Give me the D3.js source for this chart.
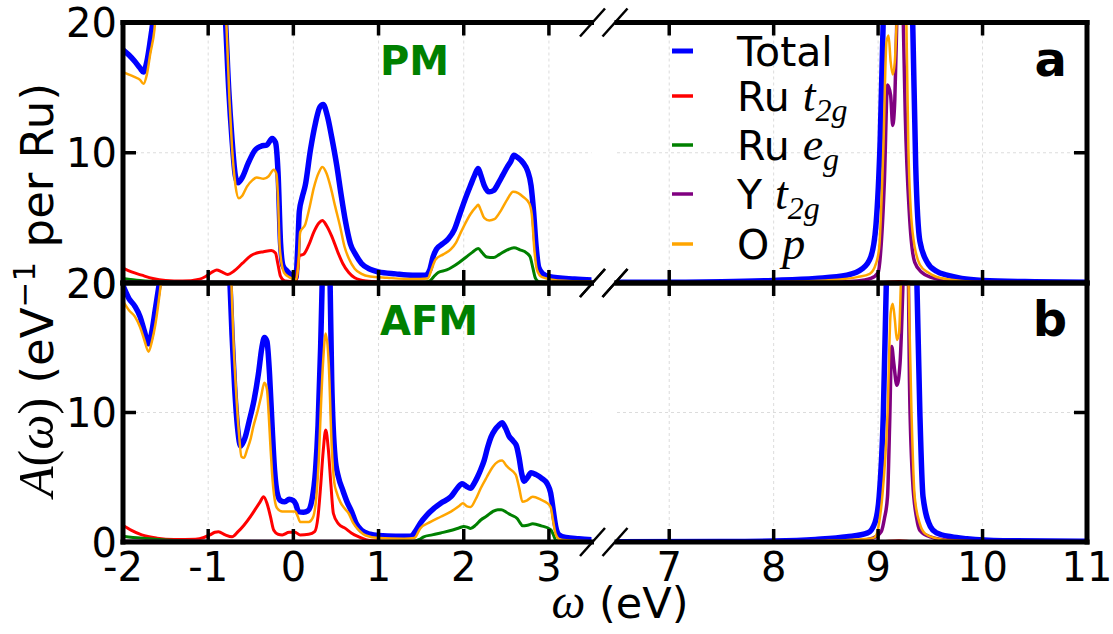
<!DOCTYPE html>
<html>
<head>
<meta charset="utf-8">
<style>
  body{margin:0;background:#fff}
  svg{display:block}
  text{font-family:"DejaVu Sans"}
  .math{font-family:"Liberation Serif";font-style:italic}
</style>
</head>
<body>
<svg id="chart" width="1113" height="634"></svg>
<script src="https://d3js.org/d3.v7.min.js"></script>
<script>
// ---- data: [omega (eV), A(omega)] ----
const pmTotal = [[-2,17.9],[-1.93,17.5],[-1.86,17.0],[-1.8,16.5],[-1.76,16.2],[-1.72,17.0],[-1.68,18.6],[-1.64,20.5],[-1.55,26],[-1.2,32],[-0.9,26],[-0.8,20.5],[-0.76,15],[-0.72,11],[-0.68,8.2],[-0.65,7.7],[-0.6,8.1],[-0.53,9.2],[-0.45,10.2],[-0.38,10.5],[-0.31,10.6],[-0.25,11.1],[-0.21,10.8],[-0.18,8.5],[-0.15,3],[-0.12,1.3],[-0.07,0.9],[-0.02,0.6],[0.03,0.4],[0.05,2.5],[0.07,5.5],[0.1,6.5],[0.14,7.5],[0.2,10.2],[0.26,12.3],[0.31,13.5],[0.35,13.7],[0.4,12.8],[0.45,11.2],[0.51,9.0],[0.56,6.8],[0.61,4.8],[0.67,3.0],[0.73,2.2],[0.8,1.5],[0.9,1.05],[1.0,0.85],[1.2,0.7],[1.4,0.6],[1.55,0.6],[1.6,1.0],[1.64,2.0],[1.68,2.6],[1.75,3.0],[1.82,3.4],[1.89,4.1],[1.95,5.2],[2.02,6.5],[2.08,7.5],[2.13,8.3],[2.17,8.8],[2.2,8.3],[2.24,7.5],[2.3,7.0],[2.35,7.1],[2.41,7.7],[2.46,8.3],[2.51,8.9],[2.55,9.3],[2.59,9.8],[2.64,9.6],[2.7,9.2],[2.75,8.6],[2.79,7.5],[2.82,5.5],[2.85,2.8],[2.88,1.2],[2.93,0.7],[3.0,0.5],[3.3,0.3],[3.6,0.2],
  [6.4,0.05],[7,0.06],[7.5,0.1],[8,0.2],[8.4,0.35],[8.7,0.6],[8.85,1.1],[8.93,2.0],[8.98,4.5],[9.02,11],[9.05,20.5],[9.1,30],[9.2,35],[9.28,30],[9.33,20.5],[9.36,9],[9.4,3.2],[9.47,1.6],[9.56,0.9],[9.66,0.6],[9.8,0.35],[10,0.2],[10.5,0.1],[11,0.06]];
const pmRuT2g = [[-2,1.15],[-1.9,0.85],[-1.78,0.6],[-1.65,0.35],[-1.5,0.2],[-1.3,0.15],[-1.1,0.3],[-1.03,0.5],[-0.95,0.85],[-0.9,1.0],[-0.84,0.85],[-0.77,0.65],[-0.7,0.9],[-0.6,1.5],[-0.5,2.1],[-0.43,2.3],[-0.35,2.4],[-0.26,2.5],[-0.21,2.3],[-0.18,1.4],[-0.15,0.5],[-0.1,0.15],[0.03,0.1],[0.05,1.0],[0.07,2.1],[0.12,2.2],[0.18,2.9],[0.24,3.9],[0.3,4.6],[0.34,4.8],[0.39,4.4],[0.45,3.6],[0.52,2.4],[0.58,1.5],[0.65,0.8],[0.72,0.4],[0.85,0.15],[1.0,0.08],[1.5,0.05],[3.6,0.03],
  [6.4,0],[9.0,0.02],[9.2,0.12],[9.35,0.02],[11,0]];
const pmRuEg = [[-2,0.35],[-1.8,0.2],[-1.5,0.1],[-1.0,0.05],[0,0.02],[1.5,0.02],[1.6,0.15],[1.65,0.5],[1.7,0.8],[1.8,1.0],[1.87,1.25],[1.95,1.6],[2.03,2.0],[2.1,2.35],[2.17,2.65],[2.22,2.3],[2.27,2.0],[2.35,1.95],[2.42,2.2],[2.5,2.5],[2.59,2.7],[2.66,2.55],[2.74,2.3],[2.78,2.0],[2.81,1.2],[2.84,0.4],[2.88,0.1],[3.0,0.03],[3.6,0],
  [6.4,0],[11,0]];
const pmYT2g = [[-2,0.05],[3.6,0.02],
  [6.4,0],[8.5,0.05],[8.8,0.15],[8.93,0.35],[9.0,0.8],[9.03,3],[9.06,7.8],[9.09,15.2],[9.12,14.4],[9.14,12.1],[9.16,14.1],[9.18,20.5],[9.21,30],[9.24,20.5],[9.26,12.9],[9.3,5.2],[9.35,1.6],[9.42,0.8],[9.5,0.45],[9.7,0.15],[10,0.05],[11,0]];
const pmOp = [[-2,16.2],[-1.93,16.0],[-1.86,15.8],[-1.8,15.6],[-1.76,15.3],[-1.72,16.0],[-1.68,17.6],[-1.63,19.5],[-1.58,24],[-1.2,30],[-0.85,25],[-0.79,20.5],[-0.75,14],[-0.72,10.4],[-0.68,7.5],[-0.64,6.5],[-0.6,6.7],[-0.545,7.4],[-0.48,7.9],[-0.43,8.1],[-0.35,8.0],[-0.29,8.2],[-0.23,8.7],[-0.2,8.4],[-0.18,6.5],[-0.16,2.7],[-0.11,0.8],[-0.05,0.45],[0.03,0.25],[0.06,1.5],[0.08,3.9],[0.14,4.5],[0.19,5.8],[0.24,7.3],[0.3,8.5],[0.34,8.9],[0.39,8.4],[0.44,7.3],[0.49,5.9],[0.55,4.3],[0.6,2.8],[0.65,1.9],[0.72,1.1],[0.8,0.7],[0.9,0.5],[1.1,0.4],[1.4,0.3],[1.58,0.35],[1.62,1.0],[1.67,1.8],[1.76,2.2],[1.85,2.6],[1.91,3.1],[1.96,3.8],[2.02,4.6],[2.08,5.3],[2.14,5.8],[2.17,6.0],[2.2,5.6],[2.24,5.0],[2.3,4.8],[2.36,4.9],[2.44,5.6],[2.51,6.4],[2.58,7.0],[2.64,6.9],[2.7,6.6],[2.77,6.1],[2.8,5.2],[2.83,2.5],[2.86,1.0],[2.92,0.45],[3.1,0.2],[3.6,0.1],
  [6.4,0.02],[8,0.08],[8.5,0.2],[8.8,0.45],[8.92,0.7],[8.98,1.5],[9.01,2.7],[9.05,10.3],[9.08,18.5],[9.1,19.0],[9.12,17.0],[9.14,16.0],[9.16,17.0],[9.18,20.5],[9.23,30],[9.27,20.5],[9.29,10.3],[9.33,3.9],[9.4,1.4],[9.48,0.8],[9.55,0.5],[9.7,0.25],[9.9,0.1],[10.5,0.04],[11,0.02]];

const afmTotal = [[-2,19.8],[-1.93,18.8],[-1.86,18.2],[-1.8,17.4],[-1.75,16.3],[-1.7,15.3],[-1.66,16.3],[-1.62,18.0],[-1.58,19.7],[-1.55,21],[-1.2,32],[-0.8,28],[-0.75,21],[-0.72,16],[-0.69,12],[-0.65,8.5],[-0.62,7.4],[-0.57,8.0],[-0.52,9.3],[-0.46,11.0],[-0.41,13.0],[-0.37,15.0],[-0.34,15.8],[-0.31,15.5],[-0.28,13.0],[-0.25,9.0],[-0.22,5.5],[-0.19,3.8],[-0.15,3.2],[-0.1,3.1],[-0.05,3.3],[0.0,3.2],[0.03,2.9],[0.06,2.35],[0.12,2.3],[0.17,2.4],[0.22,3.3],[0.26,5.5],[0.29,9],[0.32,15],[0.34,20.5],[0.38,30],[0.43,20.5],[0.45,12.5],[0.49,6.5],[0.53,5.0],[0.58,4.0],[0.63,3.1],[0.68,2.4],[0.74,1.4],[0.8,0.9],[0.9,0.6],[1.0,0.5],[1.2,0.45],[1.38,0.45],[1.43,0.8],[1.49,1.45],[1.57,2.1],[1.65,2.6],[1.73,3.0],[1.85,3.5],[1.93,4.2],[1.98,4.5],[2.03,4.3],[2.08,4.15],[2.12,4.5],[2.16,5.0],[2.2,5.6],[2.24,6.3],[2.28,7.3],[2.32,8.1],[2.37,8.7],[2.41,9.0],[2.45,9.2],[2.49,8.8],[2.53,8.2],[2.58,7.8],[2.62,7.4],[2.65,6.5],[2.68,5.3],[2.71,4.7],[2.75,5.0],[2.79,5.35],[2.85,5.2],[2.92,4.9],[2.98,4.5],[3.02,3.8],[3.05,2.5],[3.08,1.2],[3.12,0.55],[3.2,0.35],[3.35,0.25],[3.6,0.15],
  [6.4,0.02],[7.5,0.04],[8,0.08],[8.4,0.2],[8.7,0.4],[8.9,0.7],[8.97,1.5],[9.01,3.5],[9.05,9.9],[9.08,20.5],[9.13,30],[9.22,35],[9.32,30],[9.37,20.5],[9.4,9.9],[9.43,3.5],[9.5,1.2],[9.56,0.7],[9.7,0.4],[9.85,0.25],[10.2,0.1],[11,0.05]];
const afmRuT2g = [[-2,1.3],[-1.9,0.9],[-1.78,0.55],[-1.6,0.3],[-1.4,0.2],[-1.15,0.22],[-1.05,0.35],[-0.98,0.55],[-0.92,0.75],[-0.88,0.8],[-0.8,0.55],[-0.72,0.4],[-0.65,0.8],[-0.58,1.3],[-0.5,2.0],[-0.45,2.5],[-0.39,3.1],[-0.35,3.5],[-0.31,3.0],[-0.27,2.0],[-0.23,0.9],[-0.18,0.6],[-0.13,0.55],[-0.05,0.75],[0.02,0.75],[0.08,0.55],[0.18,0.6],[0.25,0.8],[0.29,2.0],[0.32,4.3],[0.35,7.0],[0.38,8.65],[0.41,7.2],[0.44,4.5],[0.47,2.2],[0.53,1.4],[0.61,1.05],[0.68,0.7],[0.77,0.4],[0.9,0.12],[1.2,0.05],[3.6,0.02],
  [6.4,0],[9.0,0.01],[9.2,0.1],[9.35,0.01],[11,0]];
const afmRuEg = [[-2,0.45],[-1.8,0.3],[-1.5,0.15],[-1.0,0.05],[0,0.02],[1.4,0.03],[1.48,0.2],[1.53,0.4],[1.63,0.55],[1.73,0.7],[1.87,0.93],[1.95,1.1],[2.0,1.2],[2.04,1.15],[2.08,1.05],[2.14,1.3],[2.2,1.7],[2.27,2.0],[2.34,2.35],[2.4,2.5],[2.44,2.5],[2.5,2.3],[2.55,2.1],[2.63,1.8],[2.66,1.5],[2.69,1.25],[2.75,1.3],[2.81,1.4],[2.91,1.25],[3.02,0.95],[3.05,0.6],[3.08,0.15],[3.15,0.03],[3.6,0],
  [6.4,0],[11,0]];
const afmYT2g = [[-2,0.05],[3.6,0.02],
  [6.4,0],[8.5,0.04],[8.8,0.1],[8.95,0.3],[9.03,0.8],[9.06,1.8],[9.09,3.5],[9.11,9],[9.13,15.1],[9.15,13.8],[9.18,12.1],[9.21,13.8],[9.24,20.5],[9.27,30],[9.29,20.5],[9.3,12.5],[9.33,4.8],[9.37,1.8],[9.4,0.9],[9.5,0.4],[9.7,0.12],[10,0.04],[11,0]];
const afmOp = [[-2,18.6],[-1.93,17.9],[-1.86,17.4],[-1.8,16.6],[-1.75,15.6],[-1.7,14.7],[-1.66,15.5],[-1.62,16.8],[-1.56,19.7],[-1.52,22],[-1.2,30],[-0.8,27],[-0.73,20.5],[-0.7,15],[-0.68,12.5],[-0.64,8.5],[-0.61,6.6],[-0.58,6.5],[-0.545,7.1],[-0.5,8.0],[-0.47,8.9],[-0.42,10.1],[-0.38,11.2],[-0.34,12.3],[-0.31,11.8],[-0.29,9.9],[-0.27,7.5],[-0.25,5.3],[-0.22,3.3],[-0.19,2.6],[-0.13,2.35],[0.02,2.35],[0.05,2.0],[0.08,1.55],[0.18,1.55],[0.23,1.9],[0.27,3.5],[0.3,6.5],[0.32,9.9],[0.35,14],[0.38,16.1],[0.415,13.8],[0.45,7.4],[0.48,4.6],[0.51,3.8],[0.55,3.1],[0.6,2.6],[0.65,2.2],[0.7,1.5],[0.77,0.9],[0.85,0.5],[1.0,0.3],[1.3,0.25],[1.42,0.3],[1.49,1.05],[1.61,1.55],[1.73,1.95],[1.85,2.35],[1.95,2.8],[1.99,3.0],[2.04,2.75],[2.08,2.7],[2.14,3.3],[2.2,4.15],[2.27,5.0],[2.34,5.8],[2.4,6.2],[2.45,6.3],[2.5,5.9],[2.53,5.7],[2.61,5.2],[2.65,4.2],[2.69,3.1],[2.74,3.2],[2.81,3.5],[2.91,3.25],[2.98,3.0],[3.02,2.7],[3.05,1.6],[3.08,0.6],[3.13,0.2],[3.3,0.1],[3.6,0.06],
  [6.4,0],[8,0.04],[8.5,0.1],[8.8,0.2],[8.95,0.3],[8.98,0.5],[9.01,1.5],[9.04,3.5],[9.09,9.9],[9.12,17.7],[9.14,18.4],[9.16,17.2],[9.18,15.6],[9.2,16.1],[9.22,20.5],[9.26,30],[9.29,20.5],[9.32,9.9],[9.35,3.5],[9.4,1.4],[9.45,0.65],[9.55,0.3],[9.7,0.12],[10,0.05],[11,0.02]];

const seriesNames = ['Total', 'Ru t2g', 'Ru eg', 'Y t2g', 'O p'];
const seriesColors = ['#0000ff', '#ff0000', '#008000', '#800080', '#ffa500'];
const seriesWidths = [5.5, 3, 3, 3.5, 2.5];
const xTicksLeft = [-2, -1, 0, 1, 2, 3];
const xTicksRight = [7, 8, 9, 10, 11];
const yTicks = [0, 10, 20];

const svg = d3.select('#chart');
svg.append('rect').attr('width', 1113).attr('height', 634).attr('fill', '#fff');

// two x ranges of the broken axis
const sides = [
  {x: d3.scaleLinear().domain([-2, 3.5]).range([123, 591.5]), ticks: xTicksLeft, keep: d => d[0] <= 3.6},
  {x: d3.scaleLinear().domain([6.5, 11]).range([617, 1087]), ticks: xTicksRight, keep: d => d[0] >= 6.4}
];

const panels = [
  {name: 'PM', tag: 'a', y: d3.scaleLinear().domain([0, 20]).range([283, 22.5]),
   series: [pmTotal, pmRuT2g, pmRuEg, pmYT2g, pmOp]},
  {name: 'AFM', tag: 'b', y: d3.scaleLinear().domain([0, 20]).range([542, 283]),
   series: [afmTotal, afmRuT2g, afmRuEg, afmYT2g, afmOp]}
];

const defs = svg.append('defs');

panels.forEach((p, pi) => {
  const [y0, y1] = p.y.range(); // bottom, top
  sides.forEach((s, si) => {
    const [x0, x1] = s.x.range();
    const id = `clip-${pi}-${si}`;
    defs.append('clipPath').attr('id', id)
      .append('rect').attr('x', x0).attr('y', y1).attr('width', x1 - x0).attr('height', y0 - y1);

    const g = svg.append('g');

    // grid
    g.selectAll('.gx').data(s.ticks).join('line')
      .attr('x1', d => s.x(d)).attr('x2', d => s.x(d))
      .attr('y1', y1).attr('y2', y0)
      .attr('stroke', '#dcdcdc').attr('stroke-width', 1).attr('stroke-dasharray', '3,3');
    g.append('line')
      .attr('x1', x0).attr('x2', x1).attr('y1', p.y(10)).attr('y2', p.y(10))
      .attr('stroke', '#dcdcdc').attr('stroke-width', 1).attr('stroke-dasharray', '3,3');

    // curves
    const line = d3.line().x(d => s.x(d[0])).y(d => p.y(d[1])).curve(d3.curveMonotoneX);
    const lg = g.append('g').attr('clip-path', `url(#${id})`);
    p.series.forEach((arr, k) => {
      lg.append('path')
        .attr('d', line(arr.filter(s.keep)))
        .attr('fill', 'none')
        .attr('stroke', seriesColors[k])
        .attr('stroke-width', seriesWidths[k])
        .attr('stroke-linejoin', 'round');
    });

    // spines
    const spine = (ax, ay, bx, by) => g.append('line')
      .attr('x1', ax).attr('y1', ay).attr('x2', bx).attr('y2', by)
      .attr('stroke', '#000').attr('stroke-width', 5).attr('stroke-linecap', 'square');
    spine(x0, y1, x1, y1);
    spine(x0, y0, x1, y0);
    if (si === 0) spine(x0, y1, x0, y0); else spine(x1, y1, x1, y0);

    // ticks (inward)
    g.selectAll('.tt').data(s.ticks).join('line')
      .attr('x1', d => s.x(d)).attr('x2', d => s.x(d)).attr('y1', y1).attr('y2', y1 + 13)
      .attr('stroke', '#000').attr('stroke-width', 3.5);
    g.selectAll('.tb').data(s.ticks).join('line')
      .attr('x1', d => s.x(d)).attr('x2', d => s.x(d)).attr('y1', y0).attr('y2', y0 - 13)
      .attr('stroke', '#000').attr('stroke-width', 3.5);
    const yx = si === 0 ? x0 : x1;
    const dir = si === 0 ? 1 : -1;
    g.selectAll('.ty').data(yTicks).join('line')
      .attr('x1', yx).attr('x2', yx + dir * 13).attr('y1', d => p.y(d)).attr('y2', d => p.y(d))
      .attr('stroke', '#000').attr('stroke-width', 3.5);

    // break marks
    const bx = si === 0 ? x1 + 1 : x0 - 2;
    [y1, y0].forEach(yy => {
      g.append('line').attr('x1', bx - 12.5).attr('y1', yy + 14).attr('x2', bx + 12.5).attr('y2', yy - 14)
        .attr('stroke', '#000').attr('stroke-width', 2.5);
    });

    // x tick labels only on lower panel
    if (pi === 1) {
      g.selectAll('.lx').data(s.ticks).join('text')
        .attr('x', d => s.x(d)).attr('y', 581)
        .attr('text-anchor', 'middle').attr('font-size', 40)
        .text(d => d);
    }
  });

  // y tick labels
  svg.append('g').selectAll('text').data(yTicks).join('text')
    .attr('x', 117).attr('y', d => p.y(d) + 14.5)
    .attr('text-anchor', 'end').attr('font-size', 40)
    .text(d => d);

  // panel names
  svg.append('text').attr('x', 380).attr('y', p.y(20) + 52)
    .attr('font-size', 40).attr('font-weight', 'bold').attr('fill', '#008000')
    .text(p.name);
  svg.append('text').attr('x', 1067).attr('y', p.y(20) + 53)
    .attr('text-anchor', 'end').attr('font-size', 48).attr('font-weight', 'bold')
    .text(p.tag);
});

// legend
const legendY = [51, 96, 145, 194, 244];
const leg = svg.append('g');
seriesNames.forEach((n, k) => {
  leg.append('line').attr('x1', 672).attr('x2', 693).attr('y1', legendY[k]).attr('y2', legendY[k])
    .attr('stroke', seriesColors[k]).attr('stroke-width', k === 0 ? 5 : 3.5);
  const t = leg.append('text').attr('x', 737).attr('y', legendY[k] + 14.5).attr('font-size', 41);
  const parts = n.split(' ');
  t.append('tspan').text(parts[0] + ' ');
  const sym = parts[1];
  if (sym === 'p') {
    t.append('tspan').attr('class', 'math').attr('font-size', 46).text('p');
  } else if (sym) {
    t.append('tspan').attr('class', 'math').attr('font-size', 46).text(sym[0]);
    t.append('tspan').attr('class', 'math').attr('font-size', 32).attr('dy', 10).text(sym.slice(1));
  }
});

// axis labels
const xl = svg.append('text').attr('x', 620).attr('y', 618).attr('text-anchor', 'middle').attr('font-size', 43);
xl.append('tspan').attr('class', 'math').attr('font-size', 48).text('ω');
xl.append('tspan').text(' (eV)');

const yl = svg.append('text').attr('transform', 'translate(53,290) rotate(-90)')
  .attr('text-anchor', 'middle').attr('font-size', 45);
yl.append('tspan').attr('class', 'math').attr('font-size', 50).text('A');
yl.append('tspan').attr('font-family', 'Liberation Serif').attr('font-size', 50).text('(');
yl.append('tspan').attr('class', 'math').attr('font-size', 50).text('ω');
yl.append('tspan').attr('font-family', 'Liberation Serif').attr('font-size', 50).text(')');
yl.append('tspan').text(' (eV');
yl.append('tspan').attr('font-size', 31).attr('dy', -18).text('−1');
yl.append('tspan').attr('dy', 18).text(' per Ru)');
</script>
</body>
</html>
